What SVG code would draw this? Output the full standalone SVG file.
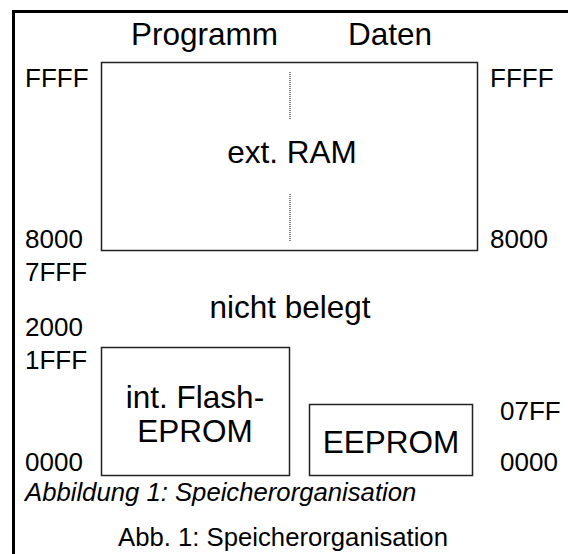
<svg xmlns="http://www.w3.org/2000/svg" width="568" height="554" viewBox="0 0 568 554">
<style>
text{font-family:"Liberation Sans",Arial,sans-serif;fill:#000}
.lbl{font-size:26px}
.cap{font-size:25.7px}
.main{font-size:31.5px}
.mid{text-anchor:middle}
.box{fill:#fff;stroke:#222;stroke-width:1.5}
.dot{stroke:#333;stroke-width:1.2;stroke-dasharray:1,1;fill:none}
</style>
<rect width="568" height="554" fill="#fff"/>
<path d="M13.5,554 V11.5 H568" fill="none" stroke="#000" stroke-width="3"/>
<g id="headers">
<text class="main" x="131" y="45">Programm</text>
<text class="main" x="348" y="45">Daten</text>
</g>
<g id="extram">
<rect class="box" x="101.5" y="62.5" width="376" height="188"/>
<text class="main mid" x="292" y="163">ext. RAM</text>
</g>
<g id="connectors">
<line class="dot" x1="290" y1="72" x2="290" y2="119"/>
<line class="dot" x1="290" y1="194" x2="290" y2="242"/>
</g>
<g id="flash">
<rect class="box" x="101.5" y="347.5" width="188" height="128"/>
<text class="main mid" x="195" y="408">int. Flash-</text>
<text class="main mid" x="195" y="442">EPROM</text>
</g>
<g id="eeprom">
<rect class="box" x="309.5" y="404.5" width="163" height="71"/>
<text class="main mid" x="391" y="453">EEPROM</text>
</g>
<g id="nicht">
<text class="main mid" x="290" y="318">nicht belegt</text>
</g>
<g id="addresses">
<text class="lbl" x="25" y="87">FFFF</text>
<text class="lbl" x="490" y="87">FFFF</text>
<text class="lbl" x="25" y="248">8000</text>
<text class="lbl" x="490" y="248">8000</text>
<text class="lbl" x="25" y="281">7FFF</text>
<text class="lbl" x="25" y="336">2000</text>
<text class="lbl" x="25" y="369">1FFF</text>
<text class="lbl" x="500" y="420">07FF</text>
<text class="lbl" x="25" y="471">0000</text>
<text class="lbl" x="500" y="471">0000</text>
</g>
<g id="captions">
<text class="cap" x="25" y="501" font-style="italic">Abbildung 1: Speicherorganisation</text>
<text class="cap mid" x="283" y="546">Abb. 1: Speicherorganisation</text>
</g>
</svg>
